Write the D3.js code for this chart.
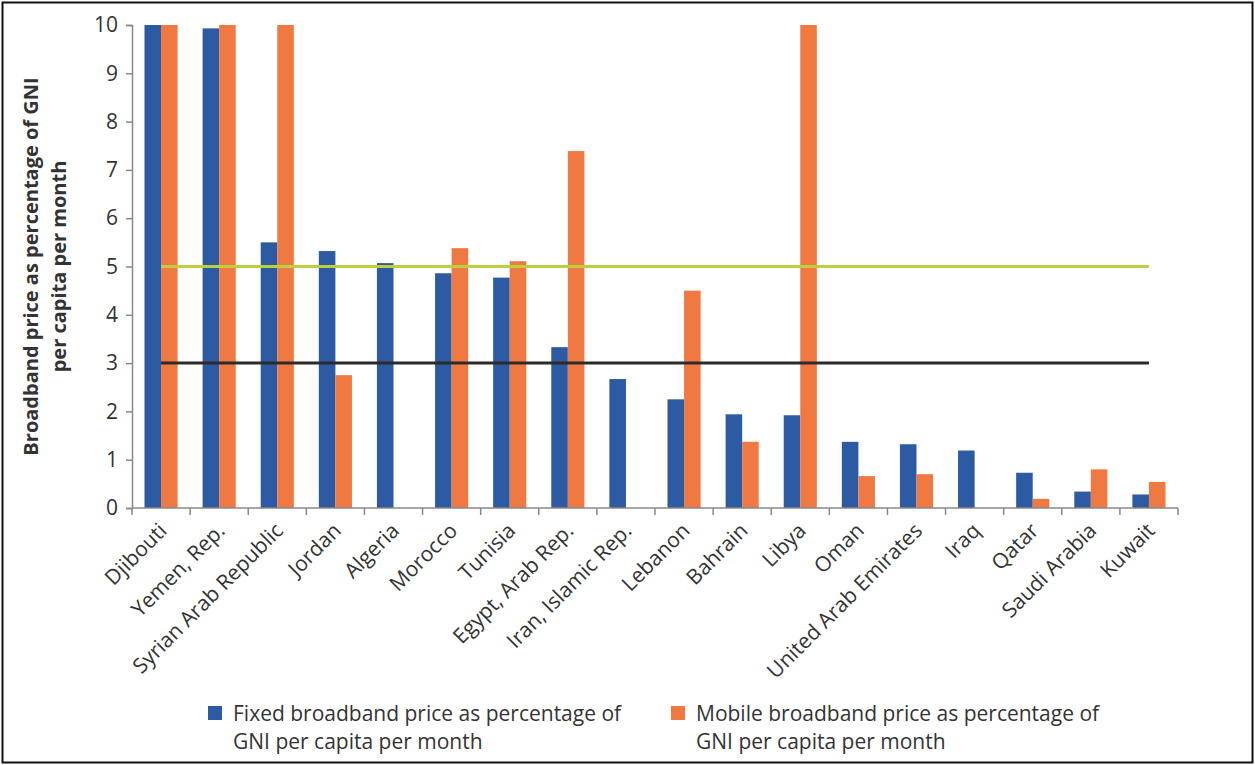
<!DOCTYPE html>
<html>
<head>
<meta charset="utf-8">
<script src="https://cdn.jsdelivr.net/npm/d3@7"></script>
<style>
  body { margin: 0; background: #fff; }
  svg text { font-family: "Open Sans", "Noto Sans", sans-serif; fill: #333; }
</style>
</head>
<body>
<div id="chart"></div>
<script>
const width = 1255;
const height = 765;

/*
Data
*/
const countries = [
	"Djibouti", "Yemen, Rep.", "Syrian Arab Republic", "Jordan", "Algeria",
	"Morocco", "Tunisia", "Egypt, Arab Rep.", "Iran, Islamic Rep.", "Lebanon",
	"Bahrain", "Libya", "Oman", "United Arab Emirates", "Iraq", "Qatar",
	"Saudi Arabia", "Kuwait"
];
const fixedPrice = [10, 9.93, 5.5, 5.32, 5.07, 4.86, 4.77, 3.33, 2.67, 2.25,
	1.94, 1.92, 1.37, 1.32, 1.19, 0.73, 0.34, 0.28];
const mobilePrice = [10, 10, 10, 2.75, null, 5.38, 5.11, 7.39, null, 4.5,
	1.37, 10, 0.66, 0.7, null, 0.19, 0.8, 0.54];
const targetHigh = 5;
const targetLow = 3;
const yTicks = [0, 1, 2, 3, 4, 5, 6, 7, 8, 9, 10];
const seriesNames = [
	["Fixed broadband price as percentage of", "GNI per capita per month"],
	["Mobile broadband price as percentage of", "GNI per capita per month"]
];

const blue = "#2d5ba3";
const orange = "#f07841";
const green = "#bccf3d";

const svg = d3.select("#chart")
	.append("svg")
	.attr("width", width)
	.attr("height", height);

// frame
svg.append("rect")
	.attr("x", 2.5).attr("y", 2.5)
	.attr("width", width - 5).attr("height", height - 5)
	.attr("fill", "none")
	.attr("stroke", "#111")
	.attr("stroke-width", 2);

const plot = { left: 132, right: 1178, top: 25, bottom: 508 };

const x = d3.scaleBand()
	.domain(countries)
	.range([plot.left, plot.right])
	.paddingInner(0.43)
	.paddingOuter(0.215);
const step = x.step();
const y = d3.scaleLinear()
	.domain([0, 10])
	.range([plot.bottom, plot.top]);

const g = svg.append("g");

/*
Bars
*/
const barW = x.bandwidth() / 2;
g.selectAll(".fixed")
	.data(countries)
	.enter()
	.append("rect")
	.attr("class", "fixed")
	.attr("x", d => x(d))
	.attr("y", (d, i) => y(fixedPrice[i]))
	.attr("width", barW)
	.attr("height", (d, i) => y(0) - y(fixedPrice[i]))
	.attr("fill", blue);
g.selectAll(".mobile")
	.data(countries.filter((d, i) => mobilePrice[i] != null))
	.enter()
	.append("rect")
	.attr("class", "mobile")
	.attr("x", d => x(d) + barW)
	.attr("y", d => y(mobilePrice[countries.indexOf(d)]))
	.attr("width", barW)
	.attr("height", d => y(0) - y(mobilePrice[countries.indexOf(d)]))
	.attr("fill", orange);

/*
Reference lines
*/
const center = d => x(d) + x.bandwidth() / 2;
const refLine = d3.line()
	.x(d => center(d[0]))
	.y(d => y(d[1]));
g.append("path")
	.datum(countries.map(c => [c, targetHigh]))
	.attr("d", refLine)
	.attr("fill", "none")
	.attr("stroke", green)
	.attr("stroke-width", 3);
g.append("path")
	.datum(countries.map(c => [c, targetLow]))
	.attr("d", refLine)
	.attr("fill", "none")
	.attr("stroke", "#2b2b2b")
	.attr("stroke-width", 3);

/*
Axes
*/
const yAxis = svg.append("g")
	.attr("transform", `translate(${plot.left},0)`)
	.call(d3.axisLeft(y).tickValues(yTicks).tickSize(6).tickPadding(8).tickFormat(d3.format("d")));
yAxis.select(".domain").attr("stroke", "#888").attr("stroke-width", 1.5);
yAxis.selectAll(".tick line").attr("stroke", "#888").attr("stroke-width", 1.5);
yAxis.selectAll(".tick text")
	.attr("font-size", 21)
	.attr("fill", "#333");

const xAxis = svg.append("g")
	.attr("transform", `translate(0,${plot.bottom})`);
xAxis.append("line")
	.attr("x1", plot.left).attr("x2", plot.right)
	.attr("stroke", "#888").attr("stroke-width", 1.5);
xAxis.selectAll(".xtick")
	.data(d3.range(countries.length + 1))
	.enter()
	.append("line")
	.attr("x1", i => plot.left + i * step)
	.attr("x2", i => plot.left + i * step)
	.attr("y1", 0).attr("y2", 7)
	.attr("stroke", "#888").attr("stroke-width", 1.5);
xAxis.selectAll(".xlabel")
	.data(countries)
	.enter()
	.append("text")
	.attr("transform", d => `translate(${center(d) + 7},${24}) rotate(-45)`)
	.attr("text-anchor", "end")
	.attr("font-size", 21)
	.text(d => d);

// y axis title
const yTitle = svg.append("text")
	.attr("transform", `translate(38,${(plot.top + plot.bottom) / 2}) rotate(-90)`)
	.attr("text-anchor", "middle")
	.attr("font-size", 20)
	.attr("font-weight", "bold");
yTitle.append("tspan").attr("x", 0).attr("dy", 0).text("Broadband price as percentage of GNI");
yTitle.append("tspan").attr("x", 0).attr("dy", 28).text("per capita per month");

/*
Legend
*/
const legend = svg.append("g");
const legendX = [208, 671];
[blue, orange].forEach((c, i) => {
	legend.append("rect")
		.attr("x", legendX[i]).attr("y", 706)
		.attr("width", 14).attr("height", 14)
		.attr("fill", c);
	const t = legend.append("text")
		.attr("x", legendX[i] + 25).attr("y", 721)
		.attr("font-size", 21);
	t.append("tspan").attr("x", legendX[i] + 25).text(seriesNames[i][0]);
	t.append("tspan").attr("x", legendX[i] + 25).attr("dy", 28).text(seriesNames[i][1]);
});
</script>
</body>
</html>
